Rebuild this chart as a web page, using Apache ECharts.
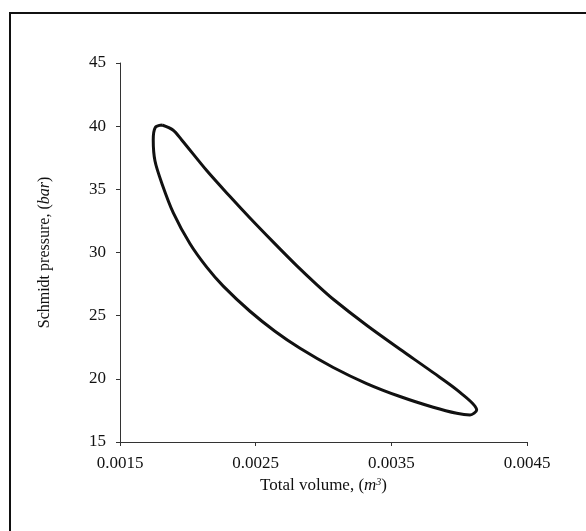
<!DOCTYPE html>
<html>
<head>
<meta charset="utf-8">
<script src="https://cdn.jsdelivr.net/npm/echarts@6/dist/echarts.min.js"></script>
<style>html,body{margin:0;padding:0;background:#fff}#c{width:586px;height:531px}</style>
</head>
<body>
<div id="c"></div>
<script>
// Closed P-V loop: upper branch (left to right), then lower branch (right to left)
const volume = [
  0.001810, 0.001890, 0.001955, 0.002139, 0.002311, 0.002458, 0.002630, 0.002802,
  0.002950, 0.003072, 0.003318, 0.003564, 0.003809, 0.004006, 0.004129, 0.004080,
  0.003982, 0.003809, 0.003564, 0.003318, 0.003072, 0.002827, 0.002642, 0.002458,
  0.002261, 0.002139, 0.002016, 0.001893, 0.001810, 0.001758, 0.001745, 0.001760, 0.001810
];
const pressure = [
  40.09, 39.70, 38.91, 36.49, 34.43, 32.73, 30.82, 28.96,
  27.46, 26.30, 24.24, 22.34, 20.49, 18.93, 17.53, 17.14,
  17.27, 17.75, 18.60, 19.63, 20.90, 22.42, 23.77, 25.35,
  27.34, 28.84, 30.69, 33.14, 35.43, 37.24, 38.91, 39.90, 40.09
];
const xTickLabels = ['0.0015', '0.0025', '0.0035', '0.0045'];
const yTickLabels = ['15', '20', '25', '30', '35', '40', '45'];

const font = 'Liberation Serif';
const chart = echarts.init(document.getElementById('c'));
chart.setOption({
  backgroundColor: '#fff',
  animation: false,
  graphic: [{
    type: 'rect',
    shape: { x: 10, y: 13, width: 700, height: 700 },
    style: { fill: 'none', stroke: '#111', lineWidth: 2 }
  }],
  grid: { left: 120, right: 59, top: 63, bottom: 89 },
  xAxis: {
    type: 'value',
    min: 0.0015, max: 0.0045, interval: 0.001,
    splitLine: { show: false },
    axisLine: { lineStyle: { color: '#333', width: 1 } },
    axisTick: { show: true, length: 4, lineStyle: { color: '#333' } },
    axisLabel: {
      color: '#111', fontFamily: font, fontSize: 17, margin: 13,
      formatter: function (v) {
        const i = Math.round((v - 0.0015) / 0.001);
        return xTickLabels[i] !== undefined ? xTickLabels[i] : '';
      }
    },
    name: 'Total volume, ({i|m}{s|3})',
    nameLocation: 'middle', nameGap: 34,
    nameTextStyle: {
      color: '#111', fontFamily: font, fontSize: 17,
      rich: {
        i: { fontStyle: 'italic', fontFamily: font, fontSize: 17, color: '#111' },
        s: { fontStyle: 'italic', fontFamily: font, fontSize: 10, color: '#111', verticalAlign: 'top', padding: [0, 0, 8, 0] }
      }
    }
  },
  yAxis: {
    type: 'value',
    min: 15, max: 45, interval: 5,
    splitLine: { show: false },
    axisLine: { show: true, lineStyle: { color: '#333', width: 1 } },
    axisTick: { show: true, length: 4, lineStyle: { color: '#333' } },
    axisLabel: {
      color: '#111', fontFamily: font, fontSize: 17, margin: 14,
      formatter: function (v) {
        const i = Math.round((v - 15) / 5);
        return yTickLabels[i] !== undefined ? yTickLabels[i] : '';
      }
    },
    name: 'Schmidt pressure, ({i|bar})',
    nameLocation: 'middle', nameGap: 67, nameRotate: 90,
    nameTextStyle: {
      color: '#111', fontFamily: font, fontSize: 16,
      rich: { i: { fontStyle: 'italic', fontFamily: font, fontSize: 16, color: '#111' } }
    }
  },
  series: [{
    type: 'line',
    data: volume.map((v, i) => [v, pressure[i]]),
    showSymbol: false,
    smooth: 0.3,
    lineStyle: { color: '#111', width: 3 }
  }]
});
</script>
</body>
</html>
